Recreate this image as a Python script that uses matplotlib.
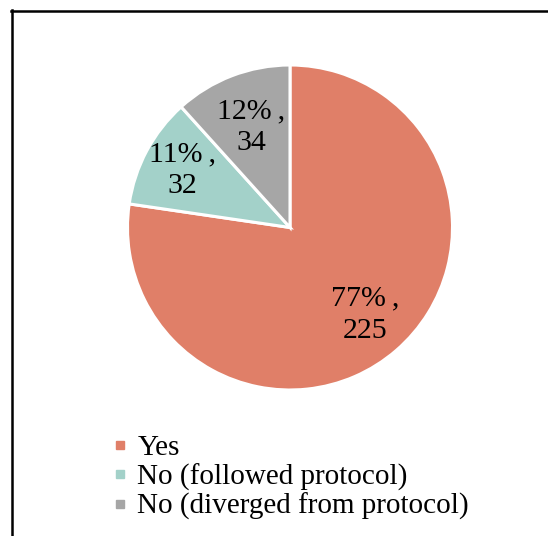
import numpy as np
import matplotlib
matplotlib.use("Agg")
import matplotlib.pyplot as plt
from matplotlib.lines import Line2D

categories = ["Yes", "No (followed protocol)", "No (diverged from protocol)"]
counts = [225, 32, 34]
percent_labels = ["77%", "11%", "12%"]
colors = ["#E07F68", "#A3D1C9", "#A6A6A6"]

plt.rcParams["font.family"] = ["Liberation Serif", "DejaVu Serif"]

W, H = 548, 536
fig = plt.figure(figsize=(W / 100, H / 100), dpi=100)

# pie axes placed in pixel terms: centre (290, 227.5), radius 162.5
cx, cy, r = 290, 227.5, 162.5
ax = fig.add_axes([(cx - r) / W, (H - cy - r) / H, 2 * r / W, 2 * r / H])
wedges, _ = ax.pie(counts, colors=colors, startangle=90, counterclock=False,
                   radius=1.0, wedgeprops=dict(edgecolor="white", linewidth=2.2))
ax.set_xlim(-1, 1)
ax.set_ylim(-1, 1)
ax.set_aspect("equal")
ax.axis("off")

# data labels: "percent,\ncount" inside each wedge
label_radius = [0.71, 0.75, 0.66]
for w, pct, n, rr in zip(wedges, percent_labels, counts, label_radius):
    mid = np.deg2rad((w.theta1 + w.theta2) / 2)
    ax.text(rr * np.cos(mid), rr * np.sin(mid), f"{pct}\u2009,\n{n}",
            ha="center", va="center", fontsize=21.5, color="black",
            linespacing=1.3)

# legend with small square keys
handles = [Line2D([0], [0], marker="s", linestyle="none", markersize=6,
                  markerfacecolor=c, markeredgecolor=c) for c in colors]
fig.legend(handles, categories, loc="upper left",
           bbox_to_anchor=(111 / W, 1 - 435 / H), frameon=False,
           fontsize=21, handlelength=0.6, handletextpad=0.3,
           labelspacing=0.07, borderpad=0, borderaxespad=0)

# outer frame (top and left edges)
fig.add_artist(Line2D([11 / W, 1.0], [1 - 10.5 / H, 1 - 10.5 / H],
                      transform=fig.transFigure, color="black", linewidth=1.8))
fig.add_artist(Line2D([11.5 / W, 11.5 / W], [0.0, 1 - 10 / H],
                      transform=fig.transFigure, color="black", linewidth=1.8))

fig.savefig("out.png", dpi=100, facecolor="white")
